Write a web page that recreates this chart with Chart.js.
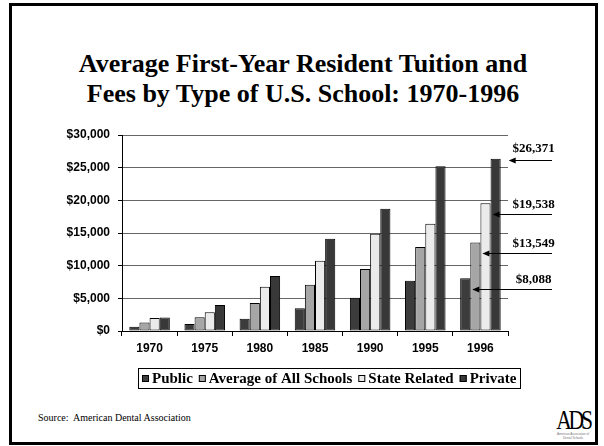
<!DOCTYPE html>
<html>
<head>
<meta charset="utf-8">
<script src="https://cdn.jsdelivr.net/npm/chart.js@4/dist/chart.umd.min.js"></script>
<style>
  html, body { margin: 0; padding: 0; background: #fff; }
  #slide { position: relative; width: 604px; height: 446px; overflow: hidden; }
  #frame { position: absolute; left: 9px; top: 3px; width: 589px; height: 442px; box-sizing: border-box; border: 3px solid #000; }
  #title { position: absolute; left: 0; width: 606px; top: 49px; text-align: center; font: bold 26px/30px "Liberation Serif", "Times New Roman", serif; color: #000; }
  #source { position: absolute; left: 38px; top: 412px; font: 10px/12px "Liberation Serif", "Times New Roman", serif; color: #000; white-space: pre; }
  #logo { position: absolute; left: 549px; top: 408px; width: 48px; text-align: center; }
  #logo .mark { font: 27px/24px "Liberation Serif", serif; letter-spacing: -4px; transform: scaleX(0.8); display: inline-block; }
  #logo .sub { font: 3px/3.5px "Liberation Sans", sans-serif; color: #777; }
  canvas { position: absolute; left: 0; top: 0; }
</style>
</head>
<body>
<div id="slide">
  <div id="frame"></div>
  <div id="title">Average First-Year Resident Tuition and<br>Fees by Type of U.S. School: 1970-1996</div>
  <div id="source">Source:  American Dental Association</div>
  <div id="logo"><span class="mark">ADS</span><div class="sub">American Association of<br>Dental Schools</div></div>
  <canvas id="chart" width="604" height="446"></canvas>
</div>
<script>
// values (1996 values are the labelled ones)
const years = ["1970", "1975", "1980", "1985", "1990", "1995", "1996"];
const seriesNames = ["Public", "Average of All Schools", "State Related", "Private"];
const publicFees = [660, 1070, 1890, 3470, 5100, 7700, 8088];
const averageFees = [1300, 2090, 4290, 7090, 9490, 12860, 13549];
const stateFees = [1990, 2860, 6790, 10770, 14900, 16430, 19538];
const privateFees = [2050, 3980, 8420, 14130, 18720, 25200, 26371];
const seriesColors = ["#3c3c3c", "#a6a6a6", "#ebebeb", "#383838"];
const yMax = 30000;
const yStep = 5000;

const money = (v) => "$" + Number(v).toLocaleString("en-US");

// boxed legend under the axis
const boxedLegend = {
  id: "boxedLegend",
  afterDraw(chart) {
    const ctx = chart.ctx;
    const font = 'bold 15px "Liberation Serif", "Times New Roman", serif';
    const box = 7, gap = 3, itemGap = 6, pad = 4;
    ctx.save();
    ctx.font = font;
    const items = chart.data.datasets.map((ds) => ({
      label: ds.label,
      color: ds.backgroundColor,
      w: ctx.measureText(ds.label).width,
    }));
    let total = pad * 2;
    items.forEach((it, i) => {
      total += box + gap + it.w + (i < items.length - 1 ? itemGap : 0);
    });
    const cx = 329, cy = 378;
    const left = Math.round(cx - total / 2);
    ctx.fillStyle = "#fff";
    ctx.strokeStyle = "#000";
    ctx.lineWidth = 1;
    ctx.strokeRect(left + 0.5, 368.5, Math.round(total), 20);
    let x = left + pad;
    ctx.textBaseline = "middle";
    ctx.textAlign = "left";
    items.forEach((it) => {
      ctx.fillStyle = it.color;
      ctx.fillRect(x, cy - 3, box, box);
      ctx.strokeStyle = "#000";
      ctx.strokeRect(x + 0.5, cy - 2.5, box - 1, box - 1);
      x += box + gap;
      ctx.fillStyle = "#000";
      ctx.fillText(it.label, x, cy + 1);
      x += it.w + itemGap;
    });
    ctx.restore();
  },
};

// 1996 value labels with arrows on the right
const valueArrows = {
  id: "valueArrows",
  afterDraw(chart) {
    const ctx = chart.ctx;
    const area = chart.chartArea;
    const yScale = chart.scales.y;
    const last = chart.data.labels.length - 1;
    const n = chart.data.datasets.length;
    ctx.save();
    ctx.font = 'bold 13px "Liberation Serif", "Times New Roman", serif';
    ctx.textAlign = "center";
    ctx.textBaseline = "middle";
    ctx.fillStyle = "#000";
    ctx.strokeStyle = "#000";
    ctx.lineWidth = 1;
    for (let d = 0; d < n; d++) {
      const v = chart.data.datasets[d].data[last];
      const py = yScale.getPixelForValue(v);
      const top = d === n - 1;
      let tip;
      if (top) {
        const bar = chart.getDatasetMeta(d).data[last];
        tip = bar.x + bar.width / 2 + 8;
      } else {
        const next = chart.getDatasetMeta(d + 1).data[last];
        tip = next.x - next.width / 2 + 2;
      }
      ctx.fillText(money(v), area.right + 25.5, py + (top ? -10 : 1));
      const ay = Math.round(py + (top ? 1 : 11)) + 0.5;
      ctx.beginPath();
      ctx.moveTo(area.right + 44, ay);
      ctx.lineTo(tip + 4, ay);
      ctx.stroke();
      ctx.beginPath();
      ctx.moveTo(tip, ay);
      ctx.lineTo(tip + 7, ay - 3);
      ctx.lineTo(tip + 7, ay + 3);
      ctx.closePath();
      ctx.fill();
    }
    ctx.restore();
  },
};

const allSeries = [publicFees, averageFees, stateFees, privateFees];

new Chart(document.getElementById("chart"), {
  type: "bar",
  data: {
    labels: years,
    datasets: allSeries.map((values, i) => ({
      label: seriesNames[i],
      data: values,
      backgroundColor: seriesColors[i],
      borderColor: "#000",
      borderWidth: 1,
      borderSkipped: false,
      barPercentage: 1,
      categoryPercentage: 0.735,
    })),
  },
  options: {
    responsive: false,
    animation: false,
    layout: { padding: { left: 0, right: 96, top: 135, bottom: 85 } },
    plugins: {
      legend: { display: false },
      title: { display: false },
      tooltip: { enabled: false },
    },
    scales: {
      x: {
        afterFit: (s) => { s.height = 30; },
        grid: { drawOnChartArea: false, drawTicks: true, tickLength: 5, tickColor: "#000", offset: true },
        border: { display: true, color: "#000", width: 1 },
        ticks: {
          color: "#000",
          padding: 5,
          font: { family: '"Liberation Sans", Arial, sans-serif', size: 12, weight: "bold" },
        },
      },
      y: {
        min: 0,
        max: yMax,
        afterFit: (s) => { s.width = 122; },
        grid: { color: "#666", lineWidth: 1, tickLength: 4, tickColor: "#000" },
        border: { display: true, color: "#000", width: 1 },
        ticks: {
          stepSize: yStep,
          color: "#000",
          padding: 8,
          font: { family: '"Liberation Sans", Arial, sans-serif', size: 12, weight: "bold" },
          callback: (v) => money(v),
        },
      },
    },
  },
  plugins: [boxedLegend, valueArrows],
});
</script>
</body>
</html>
